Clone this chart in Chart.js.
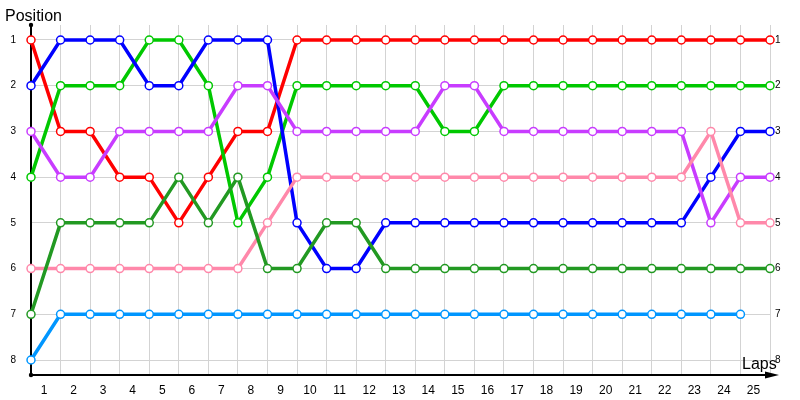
<!DOCTYPE html>
<html><head><meta charset="utf-8">
<script src="https://cdn.jsdelivr.net/npm/chart.js@4/dist/chart.umd.min.js"></script>
<style>html,body{margin:0;padding:0;background:#fff;overflow:hidden}</style>
</head><body>
<canvas id="c" width="800" height="400"></canvas>
<script>
// ---- data ----
const laps = [0,1,2,3,4,5,6,7,8,9,10,11,12,13,14,15,16,17,18,19,20,21,22,23,24,25];
const lapLabels = ['1','2','3','4','5','6','7','8','9','10','11','12','13','14','15','16','17','18','19','20','21','22','23','24','25',''];
const positions = [1,2,3,4,5,6,7,8];
const posLabels = ['1','2','3','4','5','6','7','8'];
const axisTitleY = 'Position';
const axisTitleX = 'Laps';

const redDriver    = [1,3,3,4,4,5,4,3,3,1,1,1,1,1,1,1,1,1,1,1,1,1,1,1,1,1];
const greenDriver  = [4,2,2,2,1,1,2,5,4,2,2,2,2,2,3,3,2,2,2,2,2,2,2,2,2,2];
const blueDriver   = [2,1,1,1,2,2,1,1,1,5,6,6,5,5,5,5,5,5,5,5,5,5,5,4,3,3];
const purpleDriver = [3,4,4,3,3,3,3,2,2,3,3,3,3,3,2,2,3,3,3,3,3,3,3,5,4,4];
const pinkDriver   = [6,6,6,6,6,6,6,6,5,4,4,4,4,4,4,4,4,4,4,4,4,4,4,3,5,5];
const darkGreenDriver = [7,5,5,5,5,4,5,4,6,6,5,5,6,6,6,6,6,6,6,6,6,6,6,6,6,6];
const lightBlueDriver = [8,7,7,7,7,7,7,7,7,7,7,7,7,7,7,7,7,7,7,7,7,7,7,7,7,null];

const seriesList = [redDriver, greenDriver, blueDriver, purpleDriver, pinkDriver, darkGreenDriver, lightBlueDriver];
const seriesColors = ['#ff0000','#00c800','#0000ff','#c83cff','#ff88aa','#229922','#0096ff'];

Chart.defaults.font.family = "'Liberation Sans', Arial, sans-serif";
Chart.defaults.color = '#000';

const yMin = 0.672, yMax = 8.328;

const datasets = seriesList.map((s, i) => ({
  data: s.map((v, k) => ({x: laps[k], y: v})),
  borderColor: seriesColors[i],
  pointBorderColor: seriesColors[i],
  pointBackgroundColor: '#ffffff',
  borderWidth: 3.5,
  pointRadius: 4,
  pointBorderWidth: 1.5,
  tension: 0,
  clip: false,
  order: seriesList.length - i,
  yAxisID: 'y'
}));

const decor = {
  id: 'decor',
  afterDraw(chart) {
    const {ctx, chartArea: a} = chart;
    ctx.save();
    ctx.strokeStyle = '#000';
    ctx.fillStyle = '#000';
    ctx.lineWidth = 2;
    ctx.beginPath();
    ctx.moveTo(a.right - 2, a.bottom);
    ctx.lineTo(a.right + 4, a.bottom);
    ctx.stroke();
    ctx.beginPath();
    ctx.moveTo(a.right + 9, a.bottom);
    ctx.lineTo(a.right - 5, a.bottom - 3.5);
    ctx.lineTo(a.right - 5, a.bottom + 3.5);
    ctx.closePath();
    ctx.fill();
    ctx.beginPath(); ctx.arc(a.left, a.top, 2.2, 0, Math.PI * 2); ctx.fill();
    ctx.beginPath(); ctx.arc(a.left, a.bottom, 2.2, 0, Math.PI * 2); ctx.fill();
    ctx.font = "16px 'Liberation Sans', Arial, sans-serif";
    ctx.textBaseline = 'alphabetic';
    ctx.textAlign = 'left';
    ctx.fillText(axisTitleY, 5, 21);
    ctx.fillText(axisTitleX, a.right - 28, a.bottom - 6);
    ctx.restore();
  }
};

new Chart(document.getElementById('c'), {
  type: 'line',
  data: {datasets},
  plugins: [decor],
  options: {
    responsive: false,
    animation: false,
    events: [],
    layout: {padding: {top: 25, left: 0, right: 0, bottom: 0}},
    plugins: {legend: {display: false}, tooltip: {enabled: false}},
    scales: {
      x: {
        type: 'linear', min: 0, max: 25, position: 'bottom',
        afterBuildTicks: s => { s.ticks = laps.map(v => ({value: v})); },
        afterFit: s => { s.height = 25; },
        grid: {color: '#d3d3d3', lineWidth: 1, drawTicks: false},
        border: {color: '#000', width: 2},
        ticks: {padding: 8, labelOffset: 13, autoSkip: false, maxRotation: 0,
                font: {size: 12}, color: '#000',
                callback: (v, i) => lapLabels[i] ?? ''}
      },
      y: {
        type: 'linear', reverse: true, min: yMin, max: yMax, position: 'left',
        afterBuildTicks: s => { s.ticks = positions.map(v => ({value: v})); },
        afterFit: s => { s.width = 31; },
        grid: {color: '#d3d3d3', lineWidth: 1, drawTicks: false},
        border: {color: '#000', width: 2},
        ticks: {padding: 15, font: {size: 10}, color: '#000',
                callback: (v, i) => posLabels[i]}
      },
      y2: {
        type: 'linear', reverse: true, min: yMin, max: yMax, position: 'right',
        afterBuildTicks: s => { s.ticks = positions.map(v => ({value: v})); },
        afterFit: s => { s.width = 30; },
        grid: {display: false, drawTicks: false},
        border: {display: false},
        ticks: {padding: 5, font: {size: 10}, color: '#000',
                callback: (v, i) => posLabels[i]}
      }
    }
  }
});
</script>
</body></html>
